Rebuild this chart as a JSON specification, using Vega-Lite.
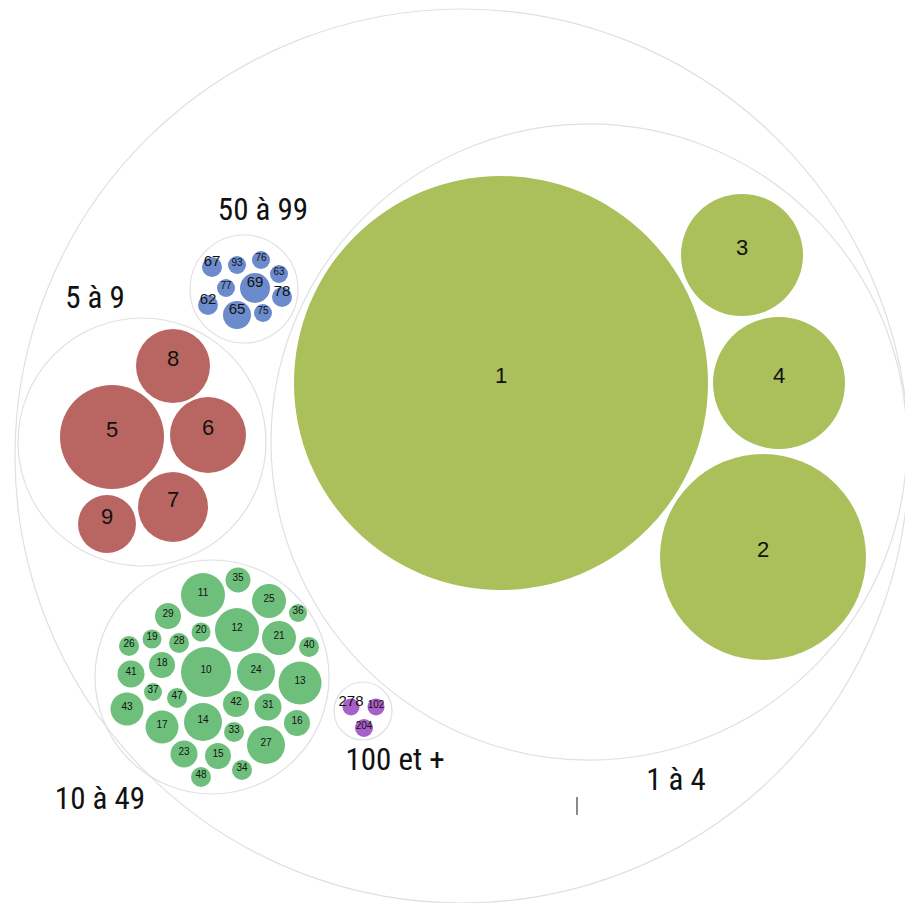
{
  "$schema": "https://vega.github.io/schema/vega-lite/v6.json",
  "width": 905,
  "height": 903,
  "padding": 0,
  "autosize": {"type": "none"},
  "background": "white",
  "config": {"view": {"stroke": null}},
  "datasets": {
    "containers": [
      {"group": "all", "x": 462, "y": 456, "r": 447},
      {"group": "1 à 4", "x": 589, "y": 442, "r": 318},
      {"group": "5 à 9", "x": 142, "y": 442, "r": 124},
      {"group": "50 à 99", "x": 244, "y": 289, "r": 54},
      {"group": "10 à 49", "x": 212, "y": 677, "r": 117},
      {"group": "100 et +", "x": 363, "y": 711, "r": 29}
    ],
    "groupLabels": [
      {"label": "5 à 9", "x": 95, "y": 299},
      {"label": "50 à 99", "x": 263, "y": 211},
      {"label": "10 à 49", "x": 100, "y": 800},
      {"label": "100 et +", "x": 395, "y": 761},
      {"label": "1 à 4", "x": 676, "y": 781}
    ],
    "leaves": [
      {"name": "1", "group": "1 à 4", "x": 501, "y": 383, "r": 207},
      {"name": "3", "group": "1 à 4", "x": 742, "y": 255, "r": 61},
      {"name": "4", "group": "1 à 4", "x": 779, "y": 383, "r": 66},
      {"name": "2", "group": "1 à 4", "x": 763, "y": 557, "r": 103},
      {"name": "5", "group": "5 à 9", "x": 112, "y": 437, "r": 52},
      {"name": "8", "group": "5 à 9", "x": 173, "y": 366, "r": 37},
      {"name": "6", "group": "5 à 9", "x": 208, "y": 435, "r": 38},
      {"name": "7", "group": "5 à 9", "x": 173, "y": 507, "r": 35},
      {"name": "9", "group": "5 à 9", "x": 107, "y": 524, "r": 29},
      {"name": "67", "group": "50 à 99", "x": 212, "y": 267, "r": 10},
      {"name": "93", "group": "50 à 99", "x": 237, "y": 265, "r": 9},
      {"name": "76", "group": "50 à 99", "x": 261, "y": 260, "r": 9},
      {"name": "63", "group": "50 à 99", "x": 279, "y": 274, "r": 9},
      {"name": "77", "group": "50 à 99", "x": 226, "y": 288, "r": 9},
      {"name": "69", "group": "50 à 99", "x": 255, "y": 288, "r": 15},
      {"name": "78", "group": "50 à 99", "x": 282, "y": 297, "r": 10},
      {"name": "62", "group": "50 à 99", "x": 208, "y": 305, "r": 10},
      {"name": "65", "group": "50 à 99", "x": 237, "y": 315, "r": 14},
      {"name": "75", "group": "50 à 99", "x": 263, "y": 313, "r": 9},
      {"name": "35", "group": "10 à 49", "x": 238, "y": 580, "r": 12.5},
      {"name": "11", "group": "10 à 49", "x": 203, "y": 595, "r": 22},
      {"name": "25", "group": "10 à 49", "x": 269, "y": 601, "r": 17},
      {"name": "36", "group": "10 à 49", "x": 298, "y": 613, "r": 9},
      {"name": "29", "group": "10 à 49", "x": 168, "y": 616, "r": 13},
      {"name": "12", "group": "10 à 49", "x": 237, "y": 630, "r": 22},
      {"name": "20", "group": "10 à 49", "x": 201, "y": 632, "r": 9.5},
      {"name": "21", "group": "10 à 49", "x": 279, "y": 638, "r": 17},
      {"name": "40", "group": "10 à 49", "x": 309, "y": 647, "r": 10},
      {"name": "19", "group": "10 à 49", "x": 152, "y": 639, "r": 9.5},
      {"name": "28", "group": "10 à 49", "x": 179, "y": 643, "r": 10},
      {"name": "26", "group": "10 à 49", "x": 129, "y": 646, "r": 10},
      {"name": "18", "group": "10 à 49", "x": 162, "y": 665, "r": 13},
      {"name": "41", "group": "10 à 49", "x": 131, "y": 674, "r": 13.5},
      {"name": "10", "group": "10 à 49", "x": 206, "y": 672, "r": 25},
      {"name": "24", "group": "10 à 49", "x": 256, "y": 672, "r": 19},
      {"name": "13", "group": "10 à 49", "x": 300, "y": 683, "r": 21.5},
      {"name": "37", "group": "10 à 49", "x": 153, "y": 692, "r": 9},
      {"name": "47", "group": "10 à 49", "x": 177, "y": 698, "r": 10},
      {"name": "43", "group": "10 à 49", "x": 127, "y": 709, "r": 16.5},
      {"name": "42", "group": "10 à 49", "x": 236, "y": 704, "r": 13},
      {"name": "31", "group": "10 à 49", "x": 268, "y": 707, "r": 13.5},
      {"name": "16", "group": "10 à 49", "x": 297, "y": 723, "r": 13},
      {"name": "17", "group": "10 à 49", "x": 162, "y": 727, "r": 16.5},
      {"name": "14", "group": "10 à 49", "x": 203, "y": 722, "r": 19},
      {"name": "33", "group": "10 à 49", "x": 234, "y": 732, "r": 10},
      {"name": "27", "group": "10 à 49", "x": 266, "y": 745, "r": 19},
      {"name": "23", "group": "10 à 49", "x": 184, "y": 754, "r": 13.5},
      {"name": "15", "group": "10 à 49", "x": 218, "y": 756, "r": 13},
      {"name": "34", "group": "10 à 49", "x": 242, "y": 770, "r": 10},
      {"name": "48", "group": "10 à 49", "x": 201, "y": 777, "r": 10},
      {"name": "278", "group": "100 et +", "x": 351, "y": 707, "r": 8.5},
      {"name": "102", "group": "100 et +", "x": 376, "y": 707, "r": 8.5},
      {"name": "204", "group": "100 et +", "x": 364, "y": 728, "r": 9}
    ],
    "tick": [{"x": 577, "y": 797, "y2": 815}]
  },
  "layer": [
    {
      "data": {"name": "containers"},
      "mark": {"type": "point", "shape": "circle", "filled": false, "stroke": "#e0e0e0", "strokeWidth": 1.2, "opacity": 1},
      "encoding": {
        "x": {"field": "x", "type": "quantitative", "scale": {"domain": [0, 905], "nice": false, "zero": false}, "axis": null},
        "y": {"field": "y", "type": "quantitative", "scale": {"domain": [0, 903], "nice": false, "zero": false, "reverse": true}, "axis": null},
        "size": {"field": "r", "type": "quantitative", "scale": {"type": "pow", "exponent": 2, "domain": [0, 500], "range": [0, 1000000], "nice": false}, "legend": null}
      }
    },
    {
      "data": {"name": "leaves"},
      "mark": {"type": "point", "shape": "circle", "filled": true, "opacity": 1, "strokeWidth": 0},
      "encoding": {
        "x": {"field": "x", "type": "quantitative"},
        "y": {"field": "y", "type": "quantitative"},
        "size": {"field": "r", "type": "quantitative"},
        "color": {"field": "group", "type": "nominal", "legend": null,
          "scale": {"domain": ["1 à 4", "5 à 9", "50 à 99", "10 à 49", "100 et +"],
                    "range": ["#abbf5b", "#b96662", "#6b8bcc", "#6ebf7c", "#a760c8"]}}
      }
    },
    {
      "data": {"name": "leaves"},
      "transform": [{"filter": "datum.r >= 28"}],
      "mark": {"type": "text", "font": "Liberation Sans, Arial, sans-serif", "fontSize": 22, "baseline": "middle", "align": "center", "dy": -7, "color": "#111111"},
      "encoding": {
        "x": {"field": "x", "type": "quantitative"},
        "y": {"field": "y", "type": "quantitative"},
        "text": {"field": "name"}
      }
    },
    {
      "data": {"name": "leaves"},
      "transform": [{"filter": "datum.r < 28 && indexof(['67','69','62','65','78','278'], datum.name) < 0"}],
      "mark": {"type": "text", "font": "Liberation Sans, Arial, sans-serif", "fontSize": 10, "baseline": "middle", "align": "center", "dy": -2, "color": "#111111"},
      "encoding": {
        "x": {"field": "x", "type": "quantitative"},
        "y": {"field": "y", "type": "quantitative"},
        "text": {"field": "name"}
      }
    },
    {
      "data": {"name": "leaves"},
      "transform": [{"filter": "indexof(['67','69','62','65','78','278'], datum.name) >= 0"}],
      "mark": {"type": "text", "font": "Liberation Sans, Arial, sans-serif", "fontSize": 15, "baseline": "middle", "align": "center", "dy": -6, "color": "#111111"},
      "encoding": {
        "x": {"field": "x", "type": "quantitative"},
        "y": {"field": "y", "type": "quantitative"},
        "text": {"field": "name"}
      }
    },
    {
      "data": {"name": "groupLabels"},
      "mark": {"type": "text", "font": "Liberation Sans Narrow, Roboto Condensed, Open Sans Condensed, DejaVu Sans Condensed, sans-serif", "fontSize": 31, "baseline": "middle", "align": "center", "color": "#111111"},
      "encoding": {
        "x": {"field": "x", "type": "quantitative"},
        "y": {"field": "y", "type": "quantitative"},
        "text": {"field": "label"}
      }
    },
    {
      "data": {"name": "tick"},
      "mark": {"type": "rule", "color": "#8a8a8a", "strokeWidth": 2},
      "encoding": {
        "x": {"field": "x", "type": "quantitative"},
        "y": {"field": "y", "type": "quantitative"},
        "y2": {"field": "y2"}
      }
    }
  ]
}
